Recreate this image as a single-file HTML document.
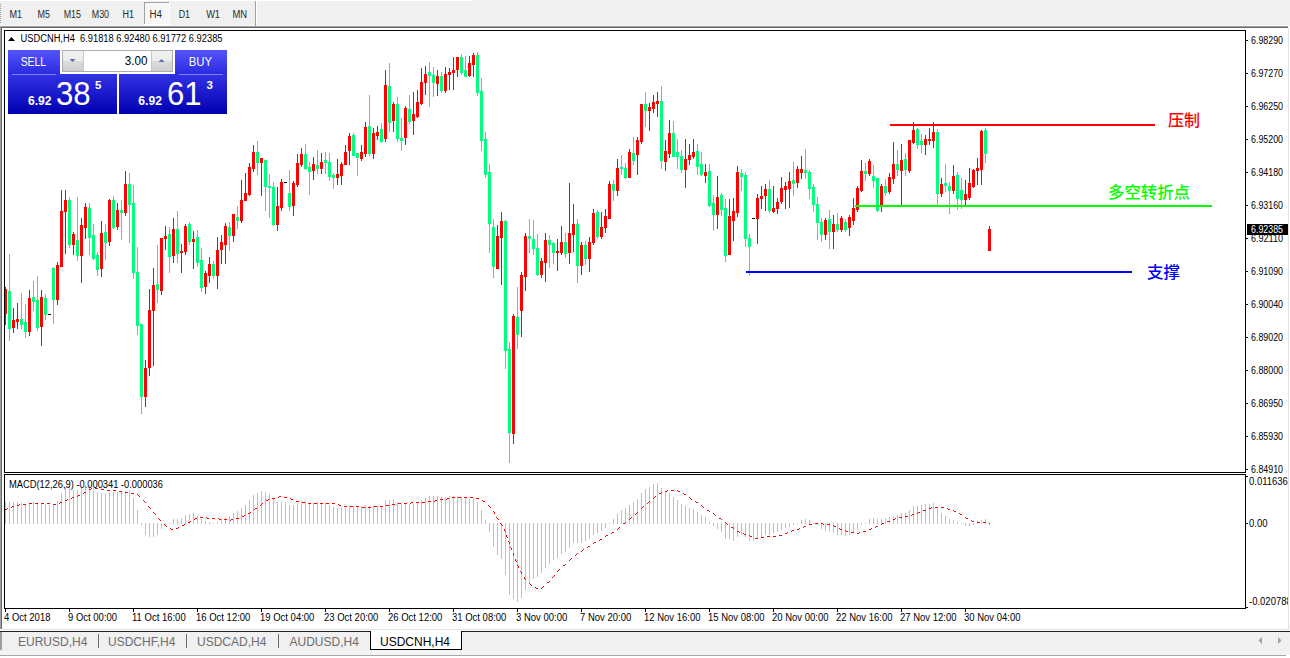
<!DOCTYPE html><html><head><meta charset="utf-8"><title>USDCNH,H4</title><style>
html,body{margin:0;padding:0;background:#fff;width:1290px;height:658px;overflow:hidden}
svg{display:block}
text{font-family:"Liberation Sans",Arial,sans-serif;}
.cn{font-family:"Liberation Sans","Noto Sans CJK SC","WenQuanYi Zen Hei",sans-serif;font-weight:500;font-size:16px}
</style></head><body>
<svg width="1290" height="658" viewBox="0 0 1290 658" shape-rendering="crispEdges">
<defs><linearGradient id="gb" x1="0" y1="0" x2="0" y2="1"><stop offset="0" stop-color="#5a5aff"/><stop offset="1" stop-color="#0000b4"/></linearGradient>
<linearGradient id="gs" x1="0" y1="0" x2="0" y2="1"><stop offset="0" stop-color="#5555ff"/><stop offset="1" stop-color="#2a2ae0"/></linearGradient>
<linearGradient id="gp" x1="0" y1="0" x2="0" y2="1"><stop offset="0" stop-color="#3333e6"/><stop offset="1" stop-color="#0000b0"/></linearGradient>
<linearGradient id="gbtn" x1="0" y1="0" x2="0" y2="1"><stop offset="0" stop-color="#f2f2f2"/><stop offset="0.5" stop-color="#ebebeb"/><stop offset="0.5" stop-color="#dddddd"/><stop offset="1" stop-color="#cfcfcf"/></linearGradient>
</defs>
<rect x="0" y="0" width="1290" height="26" fill="#f0f0f0" />
<rect x="0" y="0" width="473" height="1" fill="#ffffff" />
<rect x="0" y="4" width="1" height="1" fill="#a0a0a0" />
<rect x="0" y="6" width="1" height="1" fill="#a0a0a0" />
<rect x="0" y="8" width="1" height="1" fill="#a0a0a0" />
<rect x="0" y="10" width="1" height="1" fill="#a0a0a0" />
<rect x="0" y="12" width="1" height="1" fill="#a0a0a0" />
<rect x="0" y="14" width="1" height="1" fill="#a0a0a0" />
<rect x="0" y="16" width="1" height="1" fill="#a0a0a0" />
<rect x="0" y="18" width="1" height="1" fill="#a0a0a0" />
<rect x="0" y="20" width="1" height="1" fill="#a0a0a0" />
<rect x="0" y="22" width="1" height="1" fill="#a0a0a0" />
<rect x="0" y="25" width="1288" height="1" fill="#f8f8f8" />
<rect x="0" y="26" width="1288" height="1" fill="#a0a0a0" />
<rect x="0" y="27" width="1288" height="1" fill="#696969" />
<rect x="144" y="2" width="26" height="23" fill="#f7f7f7" />
<rect x="144" y="2" width="26" height="1" fill="#a0a0a0" />
<rect x="144" y="2" width="1" height="23" fill="#a0a0a0" />
<rect x="144" y="24" width="26" height="1" fill="#ffffff" />
<rect x="169" y="2" width="1" height="23" fill="#ffffff" />
<rect x="255" y="1" width="1" height="25" fill="#a0a0a0" />
<rect x="256" y="1" width="1" height="25" fill="#ffffff" />
<text x="9.5" y="18" font-size="10" fill="#2a2a2a" textLength="12.7" lengthAdjust="spacingAndGlyphs">M1</text>
<text x="37.5" y="18" font-size="10" fill="#2a2a2a" textLength="12.5" lengthAdjust="spacingAndGlyphs">M5</text>
<text x="63.7" y="18" font-size="10" fill="#2a2a2a" textLength="17.3" lengthAdjust="spacingAndGlyphs">M15</text>
<text x="91.8" y="18" font-size="10" fill="#2a2a2a" textLength="17.2" lengthAdjust="spacingAndGlyphs">M30</text>
<text x="122.5" y="18" font-size="10" fill="#2a2a2a" textLength="11.5" lengthAdjust="spacingAndGlyphs">H1</text>
<text x="149.5" y="18" font-size="10" fill="#2a2a2a" textLength="12.5" lengthAdjust="spacingAndGlyphs">H4</text>
<text x="178.7" y="18" font-size="10" fill="#2a2a2a" textLength="11.3" lengthAdjust="spacingAndGlyphs">D1</text>
<text x="206.2" y="18" font-size="10" fill="#2a2a2a" textLength="13.8" lengthAdjust="spacingAndGlyphs">W1</text>
<text x="232.5" y="18" font-size="10" fill="#2a2a2a" textLength="14.7" lengthAdjust="spacingAndGlyphs">MN</text>
<rect x="0" y="26" width="1" height="603" fill="#a0a0a0" />
<rect x="1" y="27" width="1" height="602" fill="#696969" />
<rect x="1288" y="28" width="1" height="602" fill="#e3e3e3" />
<rect x="2" y="629" width="1287" height="1" fill="#e3e3e3" />
<rect x="5" y="287" width="1" height="38" fill="#ff0000" />
<rect x="4" y="289" width="3" height="25" fill="#ff0000" />
<rect x="9" y="254" width="1" height="87" fill="#00ff7f" />
<rect x="8" y="291" width="3" height="38" fill="#00ff7f" />
<rect x="13" y="308" width="1" height="25" fill="#ff0000" />
<rect x="12" y="320" width="3" height="8" fill="#ff0000" />
<rect x="17" y="303" width="1" height="26" fill="#ff0000" />
<rect x="16" y="319" width="3" height="3" fill="#ff0000" />
<rect x="21" y="293" width="1" height="36" fill="#00ff7f" />
<rect x="20" y="319" width="3" height="6" fill="#00ff7f" />
<rect x="25" y="304" width="1" height="34" fill="#00ff7f" />
<rect x="24" y="322" width="3" height="10" fill="#00ff7f" />
<rect x="29" y="290" width="1" height="46" fill="#ff0000" />
<rect x="28" y="298" width="3" height="34" fill="#ff0000" />
<rect x="33" y="281" width="1" height="30" fill="#00ff7f" />
<rect x="32" y="297" width="3" height="5" fill="#00ff7f" />
<rect x="37" y="276" width="1" height="55" fill="#00ff7f" />
<rect x="36" y="300" width="3" height="28" fill="#00ff7f" />
<rect x="41" y="290" width="1" height="56" fill="#ff0000" />
<rect x="40" y="297" width="3" height="30" fill="#ff0000" />
<rect x="45" y="294" width="1" height="26" fill="#00ff7f" />
<rect x="44" y="298" width="3" height="17" fill="#00ff7f" />
<rect x="48" y="314" width="3" height="1" fill="#000" />
<rect x="53" y="267" width="1" height="57" fill="#00ff7f" />
<rect x="52" y="268" width="3" height="32" fill="#00ff7f" />
<rect x="57" y="262" width="1" height="43" fill="#ff0000" />
<rect x="56" y="265" width="3" height="35" fill="#ff0000" />
<rect x="61" y="190" width="1" height="77" fill="#ff0000" />
<rect x="60" y="211" width="3" height="56" fill="#ff0000" />
<rect x="65" y="190" width="1" height="64" fill="#ff0000" />
<rect x="64" y="200" width="3" height="12" fill="#ff0000" />
<rect x="69" y="197" width="1" height="51" fill="#00ff7f" />
<rect x="68" y="200" width="3" height="45" fill="#00ff7f" />
<rect x="73" y="232" width="1" height="23" fill="#ff0000" />
<rect x="72" y="234" width="3" height="11" fill="#ff0000" />
<rect x="77" y="197" width="1" height="64" fill="#00ff7f" />
<rect x="76" y="240" width="3" height="16" fill="#00ff7f" />
<rect x="81" y="218" width="1" height="65" fill="#ff0000" />
<rect x="80" y="225" width="3" height="31" fill="#ff0000" />
<rect x="85" y="203" width="1" height="36" fill="#ff0000" />
<rect x="84" y="207" width="3" height="21" fill="#ff0000" />
<rect x="89" y="203" width="1" height="52" fill="#00ff7f" />
<rect x="88" y="208" width="3" height="30" fill="#00ff7f" />
<rect x="93" y="224" width="1" height="36" fill="#00ff7f" />
<rect x="92" y="235" width="3" height="24" fill="#00ff7f" />
<rect x="97" y="252" width="1" height="24" fill="#00ff7f" />
<rect x="96" y="255" width="3" height="15" fill="#00ff7f" />
<rect x="101" y="221" width="1" height="56" fill="#ff0000" />
<rect x="100" y="233" width="3" height="36" fill="#ff0000" />
<rect x="105" y="224" width="1" height="36" fill="#00ff7f" />
<rect x="104" y="232" width="3" height="11" fill="#00ff7f" />
<rect x="109" y="199" width="1" height="47" fill="#ff0000" />
<rect x="108" y="200" width="3" height="42" fill="#ff0000" />
<rect x="113" y="196" width="1" height="33" fill="#00ff7f" />
<rect x="112" y="200" width="3" height="28" fill="#00ff7f" />
<rect x="117" y="203" width="1" height="27" fill="#ff0000" />
<rect x="116" y="210" width="3" height="17" fill="#ff0000" />
<rect x="121" y="200" width="1" height="40" fill="#00ff7f" />
<rect x="120" y="210" width="3" height="3" fill="#00ff7f" />
<rect x="125" y="171" width="1" height="45" fill="#ff0000" />
<rect x="124" y="184" width="3" height="29" fill="#ff0000" />
<rect x="129" y="173" width="1" height="70" fill="#00ff7f" />
<rect x="128" y="184" width="3" height="21" fill="#00ff7f" />
<rect x="133" y="185" width="1" height="94" fill="#00ff7f" />
<rect x="132" y="203" width="3" height="70" fill="#00ff7f" />
<rect x="137" y="247" width="1" height="88" fill="#00ff7f" />
<rect x="136" y="272" width="3" height="54" fill="#00ff7f" />
<rect x="141" y="324" width="1" height="90" fill="#00ff7f" />
<rect x="140" y="324" width="3" height="73" fill="#00ff7f" />
<rect x="145" y="360" width="1" height="47" fill="#ff0000" />
<rect x="144" y="368" width="3" height="29" fill="#ff0000" />
<rect x="149" y="289" width="1" height="87" fill="#ff0000" />
<rect x="148" y="310" width="3" height="58" fill="#ff0000" />
<rect x="153" y="268" width="1" height="98" fill="#ff0000" />
<rect x="152" y="285" width="3" height="26" fill="#ff0000" />
<rect x="157" y="245" width="1" height="58" fill="#00ff7f" />
<rect x="156" y="284" width="3" height="6" fill="#00ff7f" />
<rect x="161" y="238" width="1" height="57" fill="#ff0000" />
<rect x="160" y="238" width="3" height="53" fill="#ff0000" />
<rect x="165" y="226" width="1" height="24" fill="#ff0000" />
<rect x="164" y="236" width="3" height="3" fill="#ff0000" />
<rect x="169" y="227" width="1" height="46" fill="#00ff7f" />
<rect x="168" y="234" width="3" height="23" fill="#00ff7f" />
<rect x="173" y="218" width="1" height="45" fill="#ff0000" />
<rect x="172" y="229" width="3" height="27" fill="#ff0000" />
<rect x="177" y="211" width="1" height="52" fill="#00ff7f" />
<rect x="176" y="229" width="3" height="25" fill="#00ff7f" />
<rect x="181" y="244" width="1" height="29" fill="#ff0000" />
<rect x="180" y="251" width="3" height="2" fill="#ff0000" />
<rect x="185" y="224" width="1" height="31" fill="#ff0000" />
<rect x="184" y="226" width="3" height="26" fill="#ff0000" />
<rect x="189" y="222" width="1" height="23" fill="#00ff7f" />
<rect x="188" y="224" width="3" height="18" fill="#00ff7f" />
<rect x="193" y="231" width="1" height="38" fill="#ff0000" />
<rect x="192" y="239" width="3" height="3" fill="#ff0000" />
<rect x="197" y="230" width="1" height="37" fill="#00ff7f" />
<rect x="196" y="237" width="3" height="26" fill="#00ff7f" />
<rect x="201" y="248" width="1" height="44" fill="#00ff7f" />
<rect x="200" y="260" width="3" height="28" fill="#00ff7f" />
<rect x="205" y="271" width="1" height="23" fill="#ff0000" />
<rect x="204" y="273" width="3" height="14" fill="#ff0000" />
<rect x="209" y="257" width="1" height="26" fill="#ff0000" />
<rect x="208" y="264" width="3" height="12" fill="#ff0000" />
<rect x="213" y="261" width="1" height="18" fill="#00ff7f" />
<rect x="212" y="264" width="3" height="12" fill="#00ff7f" />
<rect x="217" y="237" width="1" height="52" fill="#ff0000" />
<rect x="216" y="250" width="3" height="26" fill="#ff0000" />
<rect x="221" y="235" width="1" height="29" fill="#ff0000" />
<rect x="220" y="242" width="3" height="8" fill="#ff0000" />
<rect x="225" y="223" width="1" height="41" fill="#ff0000" />
<rect x="224" y="226" width="3" height="19" fill="#ff0000" />
<rect x="229" y="222" width="1" height="29" fill="#00ff7f" />
<rect x="228" y="227" width="3" height="9" fill="#00ff7f" />
<rect x="233" y="214" width="1" height="28" fill="#ff0000" />
<rect x="232" y="214" width="3" height="22" fill="#ff0000" />
<rect x="237" y="206" width="1" height="23" fill="#00ff7f" />
<rect x="236" y="217" width="3" height="4" fill="#00ff7f" />
<rect x="241" y="180" width="1" height="43" fill="#ff0000" />
<rect x="240" y="200" width="3" height="21" fill="#ff0000" />
<rect x="245" y="173" width="1" height="28" fill="#ff0000" />
<rect x="244" y="193" width="3" height="8" fill="#ff0000" />
<rect x="249" y="163" width="1" height="33" fill="#ff0000" />
<rect x="248" y="167" width="3" height="28" fill="#ff0000" />
<rect x="253" y="145" width="1" height="27" fill="#ff0000" />
<rect x="252" y="152" width="3" height="17" fill="#ff0000" />
<rect x="257" y="141" width="1" height="34" fill="#00ff7f" />
<rect x="256" y="152" width="3" height="11" fill="#00ff7f" />
<rect x="261" y="158" width="1" height="38" fill="#ff0000" />
<rect x="260" y="158" width="3" height="5" fill="#ff0000" />
<rect x="265" y="160" width="1" height="51" fill="#00ff7f" />
<rect x="264" y="160" width="3" height="27" fill="#00ff7f" />
<rect x="269" y="174" width="1" height="44" fill="#00ff7f" />
<rect x="268" y="186" width="3" height="2" fill="#00ff7f" />
<rect x="273" y="182" width="1" height="44" fill="#00ff7f" />
<rect x="272" y="187" width="3" height="38" fill="#00ff7f" />
<rect x="277" y="187" width="1" height="44" fill="#ff0000" />
<rect x="276" y="206" width="3" height="19" fill="#ff0000" />
<rect x="281" y="179" width="1" height="32" fill="#ff0000" />
<rect x="280" y="182" width="3" height="26" fill="#ff0000" />
<rect x="284" y="182" width="3" height="1" fill="#000" />
<rect x="289" y="170" width="1" height="41" fill="#00ff7f" />
<rect x="288" y="193" width="3" height="14" fill="#00ff7f" />
<rect x="293" y="181" width="1" height="35" fill="#ff0000" />
<rect x="292" y="183" width="3" height="23" fill="#ff0000" />
<rect x="297" y="154" width="1" height="33" fill="#ff0000" />
<rect x="296" y="163" width="3" height="22" fill="#ff0000" />
<rect x="301" y="148" width="1" height="19" fill="#ff0000" />
<rect x="300" y="154" width="3" height="11" fill="#ff0000" />
<rect x="305" y="144" width="1" height="26" fill="#00ff7f" />
<rect x="304" y="154" width="3" height="15" fill="#00ff7f" />
<rect x="309" y="162" width="1" height="33" fill="#00ff7f" />
<rect x="308" y="167" width="3" height="5" fill="#00ff7f" />
<rect x="313" y="157" width="1" height="23" fill="#ff0000" />
<rect x="312" y="164" width="3" height="7" fill="#ff0000" />
<rect x="317" y="150" width="1" height="24" fill="#00ff7f" />
<rect x="316" y="165" width="3" height="4" fill="#00ff7f" />
<rect x="321" y="153" width="1" height="21" fill="#ff0000" />
<rect x="320" y="162" width="3" height="7" fill="#ff0000" />
<rect x="325" y="152" width="1" height="22" fill="#00ff7f" />
<rect x="324" y="160" width="3" height="3" fill="#00ff7f" />
<rect x="329" y="153" width="1" height="28" fill="#00ff7f" />
<rect x="328" y="162" width="3" height="15" fill="#00ff7f" />
<rect x="333" y="173" width="1" height="16" fill="#00ff7f" />
<rect x="332" y="175" width="3" height="3" fill="#00ff7f" />
<rect x="337" y="159" width="1" height="26" fill="#ff0000" />
<rect x="336" y="174" width="3" height="4" fill="#ff0000" />
<rect x="341" y="162" width="1" height="23" fill="#ff0000" />
<rect x="340" y="164" width="3" height="12" fill="#ff0000" />
<rect x="345" y="145" width="1" height="20" fill="#ff0000" />
<rect x="344" y="152" width="3" height="13" fill="#ff0000" />
<rect x="349" y="133" width="1" height="32" fill="#ff0000" />
<rect x="348" y="136" width="3" height="15" fill="#ff0000" />
<rect x="353" y="133" width="1" height="23" fill="#00ff7f" />
<rect x="352" y="135" width="3" height="21" fill="#00ff7f" />
<rect x="357" y="153" width="1" height="23" fill="#00ff7f" />
<rect x="356" y="153" width="3" height="5" fill="#00ff7f" />
<rect x="361" y="145" width="1" height="16" fill="#ff0000" />
<rect x="360" y="152" width="3" height="7" fill="#ff0000" />
<rect x="365" y="122" width="1" height="35" fill="#ff0000" />
<rect x="364" y="127" width="3" height="27" fill="#ff0000" />
<rect x="369" y="95" width="1" height="61" fill="#00ff7f" />
<rect x="368" y="126" width="3" height="28" fill="#00ff7f" />
<rect x="373" y="128" width="1" height="31" fill="#ff0000" />
<rect x="372" y="133" width="3" height="21" fill="#ff0000" />
<rect x="377" y="126" width="1" height="14" fill="#ff0000" />
<rect x="376" y="132" width="3" height="4" fill="#ff0000" />
<rect x="381" y="123" width="1" height="20" fill="#00ff7f" />
<rect x="380" y="129" width="3" height="13" fill="#00ff7f" />
<rect x="385" y="70" width="1" height="72" fill="#ff0000" />
<rect x="384" y="85" width="3" height="54" fill="#ff0000" />
<rect x="389" y="63" width="1" height="69" fill="#00ff7f" />
<rect x="388" y="86" width="3" height="37" fill="#00ff7f" />
<rect x="393" y="102" width="1" height="30" fill="#ff0000" />
<rect x="392" y="104" width="3" height="17" fill="#ff0000" />
<rect x="397" y="97" width="1" height="45" fill="#00ff7f" />
<rect x="396" y="104" width="3" height="35" fill="#00ff7f" />
<rect x="401" y="118" width="1" height="33" fill="#00ff7f" />
<rect x="400" y="138" width="3" height="3" fill="#00ff7f" />
<rect x="405" y="106" width="1" height="39" fill="#ff0000" />
<rect x="404" y="108" width="3" height="30" fill="#ff0000" />
<rect x="409" y="95" width="1" height="29" fill="#00ff7f" />
<rect x="408" y="109" width="3" height="13" fill="#00ff7f" />
<rect x="413" y="92" width="1" height="43" fill="#ff0000" />
<rect x="412" y="114" width="3" height="7" fill="#ff0000" />
<rect x="417" y="90" width="1" height="28" fill="#ff0000" />
<rect x="416" y="102" width="3" height="15" fill="#ff0000" />
<rect x="421" y="68" width="1" height="37" fill="#ff0000" />
<rect x="420" y="82" width="3" height="22" fill="#ff0000" />
<rect x="425" y="66" width="1" height="29" fill="#ff0000" />
<rect x="424" y="74" width="3" height="9" fill="#ff0000" />
<rect x="429" y="62" width="1" height="45" fill="#00ff7f" />
<rect x="428" y="72" width="3" height="4" fill="#00ff7f" />
<rect x="433" y="67" width="1" height="30" fill="#00ff7f" />
<rect x="432" y="75" width="3" height="8" fill="#00ff7f" />
<rect x="437" y="70" width="1" height="26" fill="#ff0000" />
<rect x="436" y="76" width="3" height="8" fill="#ff0000" />
<rect x="441" y="72" width="1" height="21" fill="#00ff7f" />
<rect x="440" y="76" width="3" height="15" fill="#00ff7f" />
<rect x="445" y="67" width="1" height="26" fill="#ff0000" />
<rect x="444" y="74" width="3" height="17" fill="#ff0000" />
<rect x="449" y="68" width="1" height="22" fill="#ff0000" />
<rect x="448" y="72" width="3" height="3" fill="#ff0000" />
<rect x="453" y="57" width="1" height="33" fill="#ff0000" />
<rect x="452" y="70" width="3" height="3" fill="#ff0000" />
<rect x="457" y="57" width="1" height="20" fill="#ff0000" />
<rect x="456" y="57" width="3" height="13" fill="#ff0000" />
<rect x="461" y="54" width="1" height="21" fill="#00ff7f" />
<rect x="460" y="57" width="3" height="16" fill="#00ff7f" />
<rect x="465" y="56" width="1" height="21" fill="#00ff7f" />
<rect x="464" y="70" width="3" height="7" fill="#00ff7f" />
<rect x="469" y="56" width="1" height="21" fill="#ff0000" />
<rect x="468" y="63" width="3" height="13" fill="#ff0000" />
<rect x="473" y="53" width="1" height="24" fill="#ff0000" />
<rect x="472" y="55" width="3" height="10" fill="#ff0000" />
<rect x="477" y="52" width="1" height="44" fill="#00ff7f" />
<rect x="476" y="55" width="3" height="38" fill="#00ff7f" />
<rect x="481" y="78" width="1" height="73" fill="#00ff7f" />
<rect x="480" y="91" width="3" height="50" fill="#00ff7f" />
<rect x="485" y="132" width="1" height="46" fill="#00ff7f" />
<rect x="484" y="139" width="3" height="36" fill="#00ff7f" />
<rect x="489" y="164" width="1" height="89" fill="#00ff7f" />
<rect x="488" y="172" width="3" height="52" fill="#00ff7f" />
<rect x="493" y="219" width="1" height="59" fill="#00ff7f" />
<rect x="492" y="227" width="3" height="40" fill="#00ff7f" />
<rect x="497" y="225" width="1" height="44" fill="#ff0000" />
<rect x="496" y="236" width="3" height="33" fill="#ff0000" />
<rect x="501" y="212" width="1" height="73" fill="#ff0000" />
<rect x="500" y="221" width="3" height="17" fill="#ff0000" />
<rect x="505" y="220" width="1" height="149" fill="#00ff7f" />
<rect x="504" y="221" width="3" height="130" fill="#00ff7f" />
<rect x="509" y="342" width="1" height="121" fill="#00ff7f" />
<rect x="508" y="349" width="3" height="84" fill="#00ff7f" />
<rect x="513" y="314" width="1" height="130" fill="#ff0000" />
<rect x="512" y="316" width="3" height="118" fill="#ff0000" />
<rect x="517" y="287" width="1" height="62" fill="#00ff7f" />
<rect x="516" y="317" width="3" height="18" fill="#00ff7f" />
<rect x="521" y="272" width="1" height="65" fill="#ff0000" />
<rect x="520" y="275" width="3" height="36" fill="#ff0000" />
<rect x="525" y="233" width="1" height="58" fill="#ff0000" />
<rect x="524" y="236" width="3" height="41" fill="#ff0000" />
<rect x="529" y="219" width="1" height="34" fill="#00ff7f" />
<rect x="528" y="236" width="3" height="3" fill="#00ff7f" />
<rect x="533" y="220" width="1" height="35" fill="#00ff7f" />
<rect x="532" y="239" width="3" height="10" fill="#00ff7f" />
<rect x="537" y="234" width="1" height="42" fill="#00ff7f" />
<rect x="536" y="248" width="3" height="27" fill="#00ff7f" />
<rect x="541" y="258" width="1" height="20" fill="#ff0000" />
<rect x="540" y="261" width="3" height="14" fill="#ff0000" />
<rect x="545" y="233" width="1" height="49" fill="#ff0000" />
<rect x="544" y="240" width="3" height="23" fill="#ff0000" />
<rect x="549" y="235" width="1" height="33" fill="#00ff7f" />
<rect x="548" y="240" width="3" height="5" fill="#00ff7f" />
<rect x="553" y="242" width="1" height="22" fill="#00ff7f" />
<rect x="552" y="243" width="3" height="10" fill="#00ff7f" />
<rect x="557" y="239" width="1" height="32" fill="#ff0000" />
<rect x="556" y="251" width="3" height="2" fill="#ff0000" />
<rect x="561" y="226" width="1" height="29" fill="#ff0000" />
<rect x="560" y="242" width="3" height="11" fill="#ff0000" />
<rect x="565" y="233" width="1" height="25" fill="#00ff7f" />
<rect x="564" y="242" width="3" height="12" fill="#00ff7f" />
<rect x="569" y="183" width="1" height="81" fill="#ff0000" />
<rect x="568" y="233" width="3" height="20" fill="#ff0000" />
<rect x="573" y="204" width="1" height="48" fill="#ff0000" />
<rect x="572" y="224" width="3" height="11" fill="#ff0000" />
<rect x="577" y="219" width="1" height="64" fill="#00ff7f" />
<rect x="576" y="224" width="3" height="42" fill="#00ff7f" />
<rect x="581" y="242" width="1" height="33" fill="#ff0000" />
<rect x="580" y="245" width="3" height="21" fill="#ff0000" />
<rect x="585" y="241" width="1" height="24" fill="#00ff7f" />
<rect x="584" y="245" width="3" height="14" fill="#00ff7f" />
<rect x="589" y="237" width="1" height="35" fill="#ff0000" />
<rect x="588" y="242" width="3" height="17" fill="#ff0000" />
<rect x="593" y="209" width="1" height="36" fill="#ff0000" />
<rect x="592" y="213" width="3" height="30" fill="#ff0000" />
<rect x="597" y="210" width="1" height="29" fill="#00ff7f" />
<rect x="596" y="212" width="3" height="25" fill="#00ff7f" />
<rect x="601" y="212" width="1" height="27" fill="#ff0000" />
<rect x="600" y="227" width="3" height="10" fill="#ff0000" />
<rect x="605" y="209" width="1" height="24" fill="#ff0000" />
<rect x="604" y="216" width="3" height="12" fill="#ff0000" />
<rect x="609" y="181" width="1" height="38" fill="#ff0000" />
<rect x="608" y="184" width="3" height="35" fill="#ff0000" />
<rect x="613" y="180" width="1" height="21" fill="#00ff7f" />
<rect x="612" y="184" width="3" height="7" fill="#00ff7f" />
<rect x="617" y="159" width="1" height="37" fill="#ff0000" />
<rect x="616" y="168" width="3" height="23" fill="#ff0000" />
<rect x="621" y="155" width="1" height="20" fill="#00ff7f" />
<rect x="620" y="167" width="3" height="2" fill="#00ff7f" />
<rect x="625" y="163" width="1" height="16" fill="#00ff7f" />
<rect x="624" y="168" width="3" height="10" fill="#00ff7f" />
<rect x="629" y="149" width="1" height="29" fill="#ff0000" />
<rect x="628" y="152" width="3" height="26" fill="#ff0000" />
<rect x="633" y="137" width="1" height="28" fill="#00ff7f" />
<rect x="632" y="153" width="3" height="8" fill="#00ff7f" />
<rect x="637" y="137" width="1" height="38" fill="#ff0000" />
<rect x="636" y="140" width="3" height="15" fill="#ff0000" />
<rect x="641" y="104" width="1" height="40" fill="#ff0000" />
<rect x="640" y="104" width="3" height="38" fill="#ff0000" />
<rect x="645" y="92" width="1" height="35" fill="#00ff7f" />
<rect x="644" y="104" width="3" height="7" fill="#00ff7f" />
<rect x="649" y="103" width="1" height="28" fill="#ff0000" />
<rect x="648" y="107" width="3" height="4" fill="#ff0000" />
<rect x="653" y="95" width="1" height="18" fill="#ff0000" />
<rect x="652" y="102" width="3" height="7" fill="#ff0000" />
<rect x="657" y="92" width="1" height="25" fill="#ff0000" />
<rect x="656" y="101" width="3" height="3" fill="#ff0000" />
<rect x="661" y="86" width="1" height="83" fill="#00ff7f" />
<rect x="660" y="101" width="3" height="60" fill="#00ff7f" />
<rect x="665" y="140" width="1" height="31" fill="#ff0000" />
<rect x="664" y="151" width="3" height="11" fill="#ff0000" />
<rect x="669" y="120" width="1" height="38" fill="#ff0000" />
<rect x="668" y="133" width="3" height="21" fill="#ff0000" />
<rect x="673" y="121" width="1" height="36" fill="#00ff7f" />
<rect x="672" y="133" width="3" height="24" fill="#00ff7f" />
<rect x="677" y="139" width="1" height="30" fill="#00ff7f" />
<rect x="676" y="152" width="3" height="5" fill="#00ff7f" />
<rect x="681" y="150" width="1" height="23" fill="#00ff7f" />
<rect x="680" y="156" width="3" height="14" fill="#00ff7f" />
<rect x="685" y="139" width="1" height="49" fill="#ff0000" />
<rect x="684" y="159" width="3" height="11" fill="#ff0000" />
<rect x="689" y="144" width="1" height="21" fill="#ff0000" />
<rect x="688" y="155" width="3" height="5" fill="#ff0000" />
<rect x="693" y="139" width="1" height="20" fill="#ff0000" />
<rect x="692" y="152" width="3" height="5" fill="#ff0000" />
<rect x="697" y="144" width="1" height="31" fill="#00ff7f" />
<rect x="696" y="151" width="3" height="16" fill="#00ff7f" />
<rect x="701" y="152" width="1" height="24" fill="#00ff7f" />
<rect x="700" y="164" width="3" height="11" fill="#00ff7f" />
<rect x="705" y="164" width="1" height="19" fill="#ff0000" />
<rect x="704" y="172" width="3" height="4" fill="#ff0000" />
<rect x="709" y="164" width="1" height="43" fill="#00ff7f" />
<rect x="708" y="171" width="3" height="35" fill="#00ff7f" />
<rect x="713" y="195" width="1" height="36" fill="#00ff7f" />
<rect x="712" y="203" width="3" height="12" fill="#00ff7f" />
<rect x="717" y="176" width="1" height="53" fill="#ff0000" />
<rect x="716" y="197" width="3" height="18" fill="#ff0000" />
<rect x="721" y="193" width="1" height="23" fill="#00ff7f" />
<rect x="720" y="195" width="3" height="15" fill="#00ff7f" />
<rect x="725" y="199" width="1" height="63" fill="#00ff7f" />
<rect x="724" y="208" width="3" height="48" fill="#00ff7f" />
<rect x="729" y="199" width="1" height="56" fill="#ff0000" />
<rect x="728" y="216" width="3" height="39" fill="#ff0000" />
<rect x="733" y="198" width="1" height="43" fill="#ff0000" />
<rect x="732" y="211" width="3" height="10" fill="#ff0000" />
<rect x="737" y="166" width="1" height="51" fill="#ff0000" />
<rect x="736" y="172" width="3" height="41" fill="#ff0000" />
<rect x="741" y="169" width="1" height="22" fill="#00ff7f" />
<rect x="740" y="173" width="3" height="4" fill="#00ff7f" />
<rect x="745" y="172" width="1" height="75" fill="#00ff7f" />
<rect x="744" y="175" width="3" height="64" fill="#00ff7f" />
<rect x="749" y="234" width="1" height="42" fill="#00ff7f" />
<rect x="748" y="238" width="3" height="9" fill="#00ff7f" />
<rect x="752" y="218" width="3" height="1" fill="#000" />
<rect x="757" y="194" width="1" height="50" fill="#ff0000" />
<rect x="756" y="198" width="3" height="21" fill="#ff0000" />
<rect x="761" y="186" width="1" height="23" fill="#ff0000" />
<rect x="760" y="196" width="3" height="3" fill="#ff0000" />
<rect x="765" y="184" width="1" height="27" fill="#ff0000" />
<rect x="764" y="189" width="3" height="7" fill="#ff0000" />
<rect x="769" y="180" width="1" height="33" fill="#00ff7f" />
<rect x="768" y="189" width="3" height="22" fill="#00ff7f" />
<rect x="773" y="186" width="1" height="27" fill="#ff0000" />
<rect x="772" y="208" width="3" height="4" fill="#ff0000" />
<rect x="777" y="198" width="1" height="16" fill="#ff0000" />
<rect x="776" y="202" width="3" height="7" fill="#ff0000" />
<rect x="781" y="177" width="1" height="27" fill="#ff0000" />
<rect x="780" y="188" width="3" height="14" fill="#ff0000" />
<rect x="785" y="182" width="1" height="27" fill="#ff0000" />
<rect x="784" y="186" width="3" height="4" fill="#ff0000" />
<rect x="789" y="172" width="1" height="36" fill="#ff0000" />
<rect x="788" y="181" width="3" height="8" fill="#ff0000" />
<rect x="793" y="162" width="1" height="34" fill="#00ff7f" />
<rect x="792" y="180" width="3" height="4" fill="#00ff7f" />
<rect x="797" y="166" width="1" height="22" fill="#ff0000" />
<rect x="796" y="169" width="3" height="14" fill="#ff0000" />
<rect x="801" y="156" width="1" height="23" fill="#ff0000" />
<rect x="800" y="169" width="3" height="4" fill="#ff0000" />
<rect x="805" y="149" width="1" height="30" fill="#00ff7f" />
<rect x="804" y="170" width="3" height="3" fill="#00ff7f" />
<rect x="809" y="170" width="1" height="29" fill="#00ff7f" />
<rect x="808" y="172" width="3" height="17" fill="#00ff7f" />
<rect x="813" y="184" width="1" height="28" fill="#00ff7f" />
<rect x="812" y="187" width="3" height="18" fill="#00ff7f" />
<rect x="817" y="197" width="1" height="43" fill="#00ff7f" />
<rect x="816" y="204" width="3" height="19" fill="#00ff7f" />
<rect x="821" y="218" width="1" height="24" fill="#00ff7f" />
<rect x="820" y="222" width="3" height="13" fill="#00ff7f" />
<rect x="825" y="218" width="1" height="22" fill="#ff0000" />
<rect x="824" y="220" width="3" height="15" fill="#ff0000" />
<rect x="829" y="210" width="1" height="39" fill="#00ff7f" />
<rect x="828" y="219" width="3" height="13" fill="#00ff7f" />
<rect x="833" y="215" width="1" height="34" fill="#ff0000" />
<rect x="832" y="224" width="3" height="8" fill="#ff0000" />
<rect x="837" y="213" width="1" height="19" fill="#00ff7f" />
<rect x="836" y="224" width="3" height="6" fill="#00ff7f" />
<rect x="841" y="216" width="1" height="16" fill="#ff0000" />
<rect x="840" y="218" width="3" height="12" fill="#ff0000" />
<rect x="845" y="219" width="1" height="13" fill="#00ff7f" />
<rect x="844" y="222" width="3" height="8" fill="#00ff7f" />
<rect x="849" y="215" width="1" height="21" fill="#ff0000" />
<rect x="848" y="217" width="3" height="11" fill="#ff0000" />
<rect x="853" y="198" width="1" height="27" fill="#ff0000" />
<rect x="852" y="208" width="3" height="13" fill="#ff0000" />
<rect x="857" y="186" width="1" height="26" fill="#ff0000" />
<rect x="856" y="188" width="3" height="22" fill="#ff0000" />
<rect x="861" y="160" width="1" height="32" fill="#ff0000" />
<rect x="860" y="171" width="3" height="20" fill="#ff0000" />
<rect x="865" y="163" width="1" height="18" fill="#00ff7f" />
<rect x="864" y="171" width="3" height="3" fill="#00ff7f" />
<rect x="869" y="159" width="1" height="17" fill="#ff0000" />
<rect x="868" y="161" width="3" height="13" fill="#ff0000" />
<rect x="873" y="165" width="1" height="23" fill="#00ff7f" />
<rect x="872" y="176" width="3" height="5" fill="#00ff7f" />
<rect x="877" y="178" width="1" height="34" fill="#00ff7f" />
<rect x="876" y="178" width="3" height="33" fill="#00ff7f" />
<rect x="881" y="184" width="1" height="28" fill="#ff0000" />
<rect x="880" y="186" width="3" height="21" fill="#ff0000" />
<rect x="885" y="179" width="1" height="17" fill="#00ff7f" />
<rect x="884" y="186" width="3" height="7" fill="#00ff7f" />
<rect x="889" y="173" width="1" height="21" fill="#ff0000" />
<rect x="888" y="177" width="3" height="15" fill="#ff0000" />
<rect x="893" y="142" width="1" height="42" fill="#ff0000" />
<rect x="892" y="164" width="3" height="15" fill="#ff0000" />
<rect x="897" y="150" width="1" height="26" fill="#00ff7f" />
<rect x="896" y="164" width="3" height="6" fill="#00ff7f" />
<rect x="901" y="144" width="1" height="62" fill="#ff0000" />
<rect x="900" y="160" width="3" height="11" fill="#ff0000" />
<rect x="905" y="153" width="1" height="23" fill="#00ff7f" />
<rect x="904" y="159" width="3" height="11" fill="#00ff7f" />
<rect x="909" y="140" width="1" height="33" fill="#ff0000" />
<rect x="908" y="140" width="3" height="31" fill="#ff0000" />
<rect x="913" y="122" width="1" height="22" fill="#ff0000" />
<rect x="912" y="130" width="3" height="13" fill="#ff0000" />
<rect x="917" y="128" width="1" height="21" fill="#00ff7f" />
<rect x="916" y="129" width="3" height="16" fill="#00ff7f" />
<rect x="921" y="134" width="1" height="19" fill="#00ff7f" />
<rect x="920" y="141" width="3" height="4" fill="#00ff7f" />
<rect x="925" y="135" width="1" height="20" fill="#ff0000" />
<rect x="924" y="139" width="3" height="6" fill="#ff0000" />
<rect x="929" y="128" width="1" height="17" fill="#ff0000" />
<rect x="928" y="139" width="3" height="2" fill="#ff0000" />
<rect x="933" y="122" width="1" height="26" fill="#ff0000" />
<rect x="932" y="132" width="3" height="9" fill="#ff0000" />
<rect x="937" y="129" width="1" height="77" fill="#00ff7f" />
<rect x="936" y="132" width="3" height="62" fill="#00ff7f" />
<rect x="941" y="178" width="1" height="19" fill="#ff0000" />
<rect x="940" y="184" width="3" height="10" fill="#ff0000" />
<rect x="945" y="164" width="1" height="28" fill="#00ff7f" />
<rect x="944" y="183" width="3" height="3" fill="#00ff7f" />
<rect x="949" y="182" width="1" height="32" fill="#00ff7f" />
<rect x="948" y="186" width="3" height="5" fill="#00ff7f" />
<rect x="953" y="165" width="1" height="29" fill="#ff0000" />
<rect x="952" y="176" width="3" height="15" fill="#ff0000" />
<rect x="957" y="172" width="1" height="38" fill="#00ff7f" />
<rect x="956" y="175" width="3" height="24" fill="#00ff7f" />
<rect x="961" y="178" width="1" height="31" fill="#00ff7f" />
<rect x="960" y="190" width="3" height="10" fill="#00ff7f" />
<rect x="965" y="180" width="1" height="25" fill="#ff0000" />
<rect x="964" y="194" width="3" height="6" fill="#ff0000" />
<rect x="969" y="168" width="1" height="32" fill="#ff0000" />
<rect x="968" y="183" width="3" height="15" fill="#ff0000" />
<rect x="973" y="169" width="1" height="19" fill="#ff0000" />
<rect x="972" y="170" width="3" height="17" fill="#ff0000" />
<rect x="977" y="158" width="1" height="27" fill="#ff0000" />
<rect x="976" y="168" width="3" height="3" fill="#ff0000" />
<rect x="981" y="130" width="1" height="55" fill="#ff0000" />
<rect x="980" y="131" width="3" height="39" fill="#ff0000" />
<rect x="985" y="128" width="1" height="35" fill="#00ff7f" />
<rect x="984" y="130" width="3" height="24" fill="#00ff7f" />
<rect x="989" y="226" width="1" height="25" fill="#ff0000" />
<rect x="988" y="229" width="3" height="22" fill="#ff0000" />
<rect x="890" y="124" width="265" height="2" fill="#ff0000" />
<rect x="855" y="205" width="357" height="2" fill="#00ff00" />
<rect x="746" y="271" width="386" height="2" fill="#0000ff" />
<text class="cn" x="1168" y="126" fill="#ff0000" textLength="32" lengthAdjust="spacingAndGlyphs">压制</text>
<text class="cn" x="1108" y="198" fill="#00ff00" textLength="82" lengthAdjust="spacingAndGlyphs">多空转折点</text>
<text class="cn" x="1147" y="278" fill="#0000ff" textLength="33" lengthAdjust="spacingAndGlyphs">支撑</text>
<rect x="4.5" y="30.5" width="1241" height="442" fill="none" stroke="#000" stroke-width="1"/>
<rect x="4.5" y="474.5" width="1241" height="134" fill="none" stroke="#000" stroke-width="1"/>
<rect x="1246" y="40" width="2" height="1" fill="#000" />
<text x="1251" y="44" font-size="10" fill="#000" textLength="32" lengthAdjust="spacingAndGlyphs">6.98290</text>
<rect x="1246" y="73" width="2" height="1" fill="#000" />
<text x="1251" y="77" font-size="10" fill="#000" textLength="32" lengthAdjust="spacingAndGlyphs">6.97270</text>
<rect x="1246" y="106" width="2" height="1" fill="#000" />
<text x="1251" y="110" font-size="10" fill="#000" textLength="32" lengthAdjust="spacingAndGlyphs">6.96250</text>
<rect x="1246" y="139" width="2" height="1" fill="#000" />
<text x="1251" y="143" font-size="10" fill="#000" textLength="32" lengthAdjust="spacingAndGlyphs">6.95200</text>
<rect x="1246" y="172" width="2" height="1" fill="#000" />
<text x="1251" y="176" font-size="10" fill="#000" textLength="32" lengthAdjust="spacingAndGlyphs">6.94180</text>
<rect x="1246" y="205" width="2" height="1" fill="#000" />
<text x="1251" y="209" font-size="10" fill="#000" textLength="32" lengthAdjust="spacingAndGlyphs">6.93160</text>
<rect x="1246" y="238" width="2" height="1" fill="#000" />
<text x="1251" y="242" font-size="10" fill="#000" textLength="32" lengthAdjust="spacingAndGlyphs">6.92110</text>
<rect x="1246" y="271" width="2" height="1" fill="#000" />
<text x="1251" y="275" font-size="10" fill="#000" textLength="32" lengthAdjust="spacingAndGlyphs">6.91090</text>
<rect x="1246" y="304" width="2" height="1" fill="#000" />
<text x="1251" y="308" font-size="10" fill="#000" textLength="32" lengthAdjust="spacingAndGlyphs">6.90040</text>
<rect x="1246" y="337" width="2" height="1" fill="#000" />
<text x="1251" y="341" font-size="10" fill="#000" textLength="32" lengthAdjust="spacingAndGlyphs">6.89020</text>
<rect x="1246" y="370" width="2" height="1" fill="#000" />
<text x="1251" y="374" font-size="10" fill="#000" textLength="32" lengthAdjust="spacingAndGlyphs">6.88000</text>
<rect x="1246" y="403" width="2" height="1" fill="#000" />
<text x="1251" y="407" font-size="10" fill="#000" textLength="32" lengthAdjust="spacingAndGlyphs">6.86950</text>
<rect x="1246" y="436" width="2" height="1" fill="#000" />
<text x="1251" y="440" font-size="10" fill="#000" textLength="32" lengthAdjust="spacingAndGlyphs">6.85930</text>
<rect x="1246" y="469" width="2" height="1" fill="#000" />
<text x="1251" y="473" font-size="10" fill="#000" textLength="32" lengthAdjust="spacingAndGlyphs">6.84910</text>
<rect x="1247" y="224" width="41" height="11" fill="#000" />
<text x="1251" y="233" font-size="10" fill="#fff" textLength="32" lengthAdjust="spacingAndGlyphs">6.92385</text>
<path d="M8 41 L15 41 L11.5 37 Z" fill="#000" shape-rendering="auto"/>
<text x="20.5" y="41.6" font-size="10" fill="#000" xml:space="preserve" textLength="202" lengthAdjust="spacingAndGlyphs">USDCNH,H4  6.91818 6.92480 6.91772 6.92385</text>
<rect x="5" y="502" width="1" height="22" fill="#c0c0c0" />
<rect x="9" y="502" width="1" height="22" fill="#c0c0c0" />
<rect x="13" y="502" width="1" height="22" fill="#c0c0c0" />
<rect x="17" y="502" width="1" height="22" fill="#c0c0c0" />
<rect x="21" y="503" width="1" height="21" fill="#c0c0c0" />
<rect x="25" y="505" width="1" height="19" fill="#c0c0c0" />
<rect x="29" y="503" width="1" height="21" fill="#c0c0c0" />
<rect x="33" y="502" width="1" height="22" fill="#c0c0c0" />
<rect x="37" y="504" width="1" height="20" fill="#c0c0c0" />
<rect x="41" y="504" width="1" height="20" fill="#c0c0c0" />
<rect x="45" y="504" width="1" height="20" fill="#c0c0c0" />
<rect x="49" y="505" width="1" height="19" fill="#c0c0c0" />
<rect x="53" y="505" width="1" height="19" fill="#c0c0c0" />
<rect x="57" y="501" width="1" height="23" fill="#c0c0c0" />
<rect x="61" y="493" width="1" height="31" fill="#c0c0c0" />
<rect x="65" y="487" width="1" height="37" fill="#c0c0c0" />
<rect x="69" y="486" width="1" height="38" fill="#c0c0c0" />
<rect x="73" y="490" width="1" height="34" fill="#c0c0c0" />
<rect x="77" y="490" width="1" height="34" fill="#c0c0c0" />
<rect x="81" y="488" width="1" height="36" fill="#c0c0c0" />
<rect x="85" y="485" width="1" height="39" fill="#c0c0c0" />
<rect x="89" y="485" width="1" height="39" fill="#c0c0c0" />
<rect x="93" y="488" width="1" height="36" fill="#c0c0c0" />
<rect x="97" y="492" width="1" height="32" fill="#c0c0c0" />
<rect x="101" y="493" width="1" height="31" fill="#c0c0c0" />
<rect x="105" y="494" width="1" height="30" fill="#c0c0c0" />
<rect x="109" y="492" width="1" height="32" fill="#c0c0c0" />
<rect x="113" y="492" width="1" height="32" fill="#c0c0c0" />
<rect x="117" y="492" width="1" height="32" fill="#c0c0c0" />
<rect x="121" y="492" width="1" height="32" fill="#c0c0c0" />
<rect x="125" y="491" width="1" height="33" fill="#c0c0c0" />
<rect x="129" y="490" width="1" height="34" fill="#c0c0c0" />
<rect x="133" y="498" width="1" height="26" fill="#c0c0c0" />
<rect x="137" y="510" width="1" height="14" fill="#c0c0c0" />
<rect x="141" y="523" width="1" height="2" fill="#c0c0c0" />
<rect x="145" y="523" width="1" height="12" fill="#c0c0c0" />
<rect x="149" y="523" width="1" height="14" fill="#c0c0c0" />
<rect x="153" y="523" width="1" height="14" fill="#c0c0c0" />
<rect x="157" y="523" width="1" height="12" fill="#c0c0c0" />
<rect x="161" y="523" width="1" height="6" fill="#c0c0c0" />
<rect x="165" y="523" width="1" height="2" fill="#c0c0c0" />
<rect x="169" y="523" width="1" height="1" fill="#c0c0c0" />
<rect x="173" y="519" width="1" height="5" fill="#c0c0c0" />
<rect x="177" y="519" width="1" height="5" fill="#c0c0c0" />
<rect x="181" y="518" width="1" height="6" fill="#c0c0c0" />
<rect x="185" y="515" width="1" height="9" fill="#c0c0c0" />
<rect x="189" y="514" width="1" height="10" fill="#c0c0c0" />
<rect x="193" y="513" width="1" height="11" fill="#c0c0c0" />
<rect x="197" y="516" width="1" height="8" fill="#c0c0c0" />
<rect x="201" y="519" width="1" height="5" fill="#c0c0c0" />
<rect x="205" y="521" width="1" height="3" fill="#c0c0c0" />
<rect x="209" y="522" width="1" height="2" fill="#c0c0c0" />
<rect x="213" y="523" width="1" height="1" fill="#c0c0c0" />
<rect x="217" y="522" width="1" height="2" fill="#c0c0c0" />
<rect x="221" y="519" width="1" height="5" fill="#c0c0c0" />
<rect x="225" y="517" width="1" height="7" fill="#c0c0c0" />
<rect x="229" y="516" width="1" height="8" fill="#c0c0c0" />
<rect x="233" y="513" width="1" height="11" fill="#c0c0c0" />
<rect x="237" y="511" width="1" height="13" fill="#c0c0c0" />
<rect x="241" y="508" width="1" height="16" fill="#c0c0c0" />
<rect x="245" y="505" width="1" height="19" fill="#c0c0c0" />
<rect x="249" y="500" width="1" height="24" fill="#c0c0c0" />
<rect x="253" y="495" width="1" height="29" fill="#c0c0c0" />
<rect x="257" y="493" width="1" height="31" fill="#c0c0c0" />
<rect x="261" y="491" width="1" height="33" fill="#c0c0c0" />
<rect x="265" y="492" width="1" height="32" fill="#c0c0c0" />
<rect x="269" y="494" width="1" height="30" fill="#c0c0c0" />
<rect x="273" y="499" width="1" height="25" fill="#c0c0c0" />
<rect x="277" y="502" width="1" height="22" fill="#c0c0c0" />
<rect x="281" y="502" width="1" height="22" fill="#c0c0c0" />
<rect x="285" y="502" width="1" height="22" fill="#c0c0c0" />
<rect x="289" y="505" width="1" height="19" fill="#c0c0c0" />
<rect x="293" y="505" width="1" height="19" fill="#c0c0c0" />
<rect x="297" y="503" width="1" height="21" fill="#c0c0c0" />
<rect x="301" y="501" width="1" height="23" fill="#c0c0c0" />
<rect x="305" y="501" width="1" height="23" fill="#c0c0c0" />
<rect x="309" y="503" width="1" height="21" fill="#c0c0c0" />
<rect x="313" y="503" width="1" height="21" fill="#c0c0c0" />
<rect x="317" y="503" width="1" height="21" fill="#c0c0c0" />
<rect x="321" y="503" width="1" height="21" fill="#c0c0c0" />
<rect x="325" y="503" width="1" height="21" fill="#c0c0c0" />
<rect x="329" y="505" width="1" height="19" fill="#c0c0c0" />
<rect x="333" y="507" width="1" height="17" fill="#c0c0c0" />
<rect x="337" y="508" width="1" height="16" fill="#c0c0c0" />
<rect x="341" y="508" width="1" height="16" fill="#c0c0c0" />
<rect x="345" y="508" width="1" height="16" fill="#c0c0c0" />
<rect x="349" y="506" width="1" height="18" fill="#c0c0c0" />
<rect x="353" y="506" width="1" height="18" fill="#c0c0c0" />
<rect x="357" y="507" width="1" height="17" fill="#c0c0c0" />
<rect x="361" y="506" width="1" height="18" fill="#c0c0c0" />
<rect x="365" y="505" width="1" height="19" fill="#c0c0c0" />
<rect x="369" y="506" width="1" height="18" fill="#c0c0c0" />
<rect x="373" y="506" width="1" height="18" fill="#c0c0c0" />
<rect x="377" y="506" width="1" height="18" fill="#c0c0c0" />
<rect x="381" y="506" width="1" height="18" fill="#c0c0c0" />
<rect x="385" y="500" width="1" height="24" fill="#c0c0c0" />
<rect x="389" y="500" width="1" height="24" fill="#c0c0c0" />
<rect x="393" y="499" width="1" height="25" fill="#c0c0c0" />
<rect x="397" y="502" width="1" height="22" fill="#c0c0c0" />
<rect x="401" y="504" width="1" height="20" fill="#c0c0c0" />
<rect x="405" y="503" width="1" height="21" fill="#c0c0c0" />
<rect x="409" y="504" width="1" height="20" fill="#c0c0c0" />
<rect x="413" y="504" width="1" height="20" fill="#c0c0c0" />
<rect x="417" y="503" width="1" height="21" fill="#c0c0c0" />
<rect x="421" y="500" width="1" height="24" fill="#c0c0c0" />
<rect x="425" y="498" width="1" height="26" fill="#c0c0c0" />
<rect x="429" y="496" width="1" height="28" fill="#c0c0c0" />
<rect x="433" y="496" width="1" height="28" fill="#c0c0c0" />
<rect x="437" y="496" width="1" height="28" fill="#c0c0c0" />
<rect x="441" y="497" width="1" height="27" fill="#c0c0c0" />
<rect x="445" y="497" width="1" height="27" fill="#c0c0c0" />
<rect x="449" y="496" width="1" height="28" fill="#c0c0c0" />
<rect x="453" y="496" width="1" height="28" fill="#c0c0c0" />
<rect x="457" y="496" width="1" height="28" fill="#c0c0c0" />
<rect x="461" y="497" width="1" height="27" fill="#c0c0c0" />
<rect x="465" y="498" width="1" height="26" fill="#c0c0c0" />
<rect x="469" y="499" width="1" height="25" fill="#c0c0c0" />
<rect x="473" y="498" width="1" height="26" fill="#c0c0c0" />
<rect x="477" y="502" width="1" height="22" fill="#c0c0c0" />
<rect x="481" y="510" width="1" height="14" fill="#c0c0c0" />
<rect x="485" y="520" width="1" height="4" fill="#c0c0c0" />
<rect x="489" y="523" width="1" height="9" fill="#c0c0c0" />
<rect x="493" y="523" width="1" height="24" fill="#c0c0c0" />
<rect x="497" y="523" width="1" height="32" fill="#c0c0c0" />
<rect x="501" y="523" width="1" height="36" fill="#c0c0c0" />
<rect x="505" y="523" width="1" height="52" fill="#c0c0c0" />
<rect x="509" y="523" width="1" height="72" fill="#c0c0c0" />
<rect x="513" y="523" width="1" height="76" fill="#c0c0c0" />
<rect x="517" y="523" width="1" height="79" fill="#c0c0c0" />
<rect x="521" y="523" width="1" height="75" fill="#c0c0c0" />
<rect x="525" y="523" width="1" height="67" fill="#c0c0c0" />
<rect x="529" y="523" width="1" height="61" fill="#c0c0c0" />
<rect x="533" y="523" width="1" height="56" fill="#c0c0c0" />
<rect x="537" y="523" width="1" height="54" fill="#c0c0c0" />
<rect x="541" y="523" width="1" height="50" fill="#c0c0c0" />
<rect x="545" y="523" width="1" height="45" fill="#c0c0c0" />
<rect x="549" y="523" width="1" height="41" fill="#c0c0c0" />
<rect x="553" y="523" width="1" height="37" fill="#c0c0c0" />
<rect x="557" y="523" width="1" height="35" fill="#c0c0c0" />
<rect x="561" y="523" width="1" height="31" fill="#c0c0c0" />
<rect x="565" y="523" width="1" height="29" fill="#c0c0c0" />
<rect x="569" y="523" width="1" height="25" fill="#c0c0c0" />
<rect x="573" y="523" width="1" height="20" fill="#c0c0c0" />
<rect x="577" y="523" width="1" height="20" fill="#c0c0c0" />
<rect x="581" y="523" width="1" height="20" fill="#c0c0c0" />
<rect x="585" y="523" width="1" height="18" fill="#c0c0c0" />
<rect x="589" y="523" width="1" height="16" fill="#c0c0c0" />
<rect x="593" y="523" width="1" height="12" fill="#c0c0c0" />
<rect x="597" y="523" width="1" height="10" fill="#c0c0c0" />
<rect x="601" y="523" width="1" height="8" fill="#c0c0c0" />
<rect x="605" y="523" width="1" height="5" fill="#c0c0c0" />
<rect x="609" y="523" width="1" height="1" fill="#c0c0c0" />
<rect x="613" y="519" width="1" height="5" fill="#c0c0c0" />
<rect x="617" y="514" width="1" height="10" fill="#c0c0c0" />
<rect x="621" y="510" width="1" height="14" fill="#c0c0c0" />
<rect x="625" y="508" width="1" height="16" fill="#c0c0c0" />
<rect x="629" y="505" width="1" height="19" fill="#c0c0c0" />
<rect x="633" y="502" width="1" height="22" fill="#c0c0c0" />
<rect x="637" y="499" width="1" height="25" fill="#c0c0c0" />
<rect x="641" y="493" width="1" height="31" fill="#c0c0c0" />
<rect x="645" y="489" width="1" height="35" fill="#c0c0c0" />
<rect x="649" y="487" width="1" height="37" fill="#c0c0c0" />
<rect x="653" y="484" width="1" height="40" fill="#c0c0c0" />
<rect x="657" y="483" width="1" height="41" fill="#c0c0c0" />
<rect x="661" y="488" width="1" height="36" fill="#c0c0c0" />
<rect x="665" y="492" width="1" height="32" fill="#c0c0c0" />
<rect x="669" y="493" width="1" height="31" fill="#c0c0c0" />
<rect x="673" y="497" width="1" height="27" fill="#c0c0c0" />
<rect x="677" y="500" width="1" height="24" fill="#c0c0c0" />
<rect x="681" y="504" width="1" height="20" fill="#c0c0c0" />
<rect x="685" y="506" width="1" height="18" fill="#c0c0c0" />
<rect x="689" y="508" width="1" height="16" fill="#c0c0c0" />
<rect x="693" y="509" width="1" height="15" fill="#c0c0c0" />
<rect x="697" y="512" width="1" height="12" fill="#c0c0c0" />
<rect x="701" y="515" width="1" height="9" fill="#c0c0c0" />
<rect x="705" y="517" width="1" height="7" fill="#c0c0c0" />
<rect x="709" y="522" width="1" height="2" fill="#c0c0c0" />
<rect x="713" y="523" width="1" height="3" fill="#c0c0c0" />
<rect x="717" y="523" width="1" height="6" fill="#c0c0c0" />
<rect x="721" y="523" width="1" height="9" fill="#c0c0c0" />
<rect x="725" y="523" width="1" height="16" fill="#c0c0c0" />
<rect x="729" y="523" width="1" height="16" fill="#c0c0c0" />
<rect x="733" y="523" width="1" height="18" fill="#c0c0c0" />
<rect x="737" y="523" width="1" height="14" fill="#c0c0c0" />
<rect x="741" y="523" width="1" height="12" fill="#c0c0c0" />
<rect x="745" y="523" width="1" height="14" fill="#c0c0c0" />
<rect x="749" y="523" width="1" height="18" fill="#c0c0c0" />
<rect x="753" y="523" width="1" height="18" fill="#c0c0c0" />
<rect x="757" y="523" width="1" height="16" fill="#c0c0c0" />
<rect x="761" y="523" width="1" height="14" fill="#c0c0c0" />
<rect x="765" y="523" width="1" height="12" fill="#c0c0c0" />
<rect x="769" y="523" width="1" height="12" fill="#c0c0c0" />
<rect x="773" y="523" width="1" height="10" fill="#c0c0c0" />
<rect x="777" y="523" width="1" height="9" fill="#c0c0c0" />
<rect x="781" y="523" width="1" height="7" fill="#c0c0c0" />
<rect x="785" y="523" width="1" height="5" fill="#c0c0c0" />
<rect x="789" y="523" width="1" height="4" fill="#c0c0c0" />
<rect x="793" y="523" width="1" height="2" fill="#c0c0c0" />
<rect x="797" y="523" width="1" height="1" fill="#c0c0c0" />
<rect x="801" y="520" width="1" height="4" fill="#c0c0c0" />
<rect x="805" y="519" width="1" height="5" fill="#c0c0c0" />
<rect x="809" y="520" width="1" height="4" fill="#c0c0c0" />
<rect x="813" y="523" width="1" height="1" fill="#c0c0c0" />
<rect x="817" y="523" width="1" height="2" fill="#c0c0c0" />
<rect x="821" y="523" width="1" height="6" fill="#c0c0c0" />
<rect x="825" y="523" width="1" height="8" fill="#c0c0c0" />
<rect x="829" y="523" width="1" height="9" fill="#c0c0c0" />
<rect x="833" y="523" width="1" height="10" fill="#c0c0c0" />
<rect x="837" y="523" width="1" height="12" fill="#c0c0c0" />
<rect x="841" y="523" width="1" height="12" fill="#c0c0c0" />
<rect x="845" y="523" width="1" height="13" fill="#c0c0c0" />
<rect x="849" y="523" width="1" height="12" fill="#c0c0c0" />
<rect x="853" y="523" width="1" height="10" fill="#c0c0c0" />
<rect x="857" y="523" width="1" height="7" fill="#c0c0c0" />
<rect x="861" y="523" width="1" height="2" fill="#c0c0c0" />
<rect x="865" y="523" width="1" height="1" fill="#c0c0c0" />
<rect x="869" y="519" width="1" height="5" fill="#c0c0c0" />
<rect x="873" y="518" width="1" height="6" fill="#c0c0c0" />
<rect x="877" y="519" width="1" height="5" fill="#c0c0c0" />
<rect x="881" y="519" width="1" height="5" fill="#c0c0c0" />
<rect x="885" y="518" width="1" height="6" fill="#c0c0c0" />
<rect x="889" y="517" width="1" height="7" fill="#c0c0c0" />
<rect x="893" y="516" width="1" height="8" fill="#c0c0c0" />
<rect x="897" y="515" width="1" height="9" fill="#c0c0c0" />
<rect x="901" y="513" width="1" height="11" fill="#c0c0c0" />
<rect x="905" y="513" width="1" height="11" fill="#c0c0c0" />
<rect x="909" y="510" width="1" height="14" fill="#c0c0c0" />
<rect x="913" y="506" width="1" height="18" fill="#c0c0c0" />
<rect x="917" y="506" width="1" height="18" fill="#c0c0c0" />
<rect x="921" y="505" width="1" height="19" fill="#c0c0c0" />
<rect x="925" y="504" width="1" height="20" fill="#c0c0c0" />
<rect x="929" y="504" width="1" height="20" fill="#c0c0c0" />
<rect x="933" y="503" width="1" height="21" fill="#c0c0c0" />
<rect x="937" y="509" width="1" height="15" fill="#c0c0c0" />
<rect x="941" y="513" width="1" height="11" fill="#c0c0c0" />
<rect x="945" y="516" width="1" height="8" fill="#c0c0c0" />
<rect x="949" y="519" width="1" height="5" fill="#c0c0c0" />
<rect x="953" y="520" width="1" height="4" fill="#c0c0c0" />
<rect x="957" y="522" width="1" height="2" fill="#c0c0c0" />
<rect x="961" y="523" width="1" height="1" fill="#c0c0c0" />
<rect x="965" y="523" width="1" height="3" fill="#c0c0c0" />
<rect x="969" y="523" width="1" height="3" fill="#c0c0c0" />
<rect x="973" y="523" width="1" height="2" fill="#c0c0c0" />
<rect x="977" y="521" width="1" height="3" fill="#c0c0c0" />
<rect x="981" y="520" width="1" height="4" fill="#c0c0c0" />
<rect x="985" y="519" width="1" height="5" fill="#c0c0c0" />
<rect x="989" y="523" width="1" height="2" fill="#c0c0c0" />
<path d="M5 509h1v1h-1zM6 509h1v1h-1zM7 508h1v1h-1zM11 507h1v1h-1zM12 506h1v1h-1zM13 506h1v1h-1zM17 505h1v1h-1zM18 505h1v1h-1zM19 504h1v1h-1zM23 504h1v1h-1zM24 504h1v1h-1zM25 504h1v1h-1zM29 503h1v1h-1zM30 503h1v1h-1zM31 503h1v1h-1zM35 503h1v1h-1zM36 503h1v1h-1zM37 503h1v1h-1zM41 503h1v1h-1zM42 503h1v1h-1zM43 503h1v1h-1zM47 503h1v1h-1zM48 503h1v1h-1zM49 503h1v1h-1zM53 504h1v1h-1zM54 504h1v1h-1zM55 504h1v1h-1zM59 503h1v1h-1zM60 502h1v1h-1zM61 502h1v1h-1zM65 500h1v1h-1zM66 500h1v1h-1zM67 499h1v1h-1zM71 498h1v1h-1zM72 497h1v1h-1zM73 497h1v1h-1zM77 496h1v1h-1zM78 495h1v1h-1zM79 495h1v1h-1zM83 493h1v1h-1zM84 492h1v1h-1zM85 492h1v1h-1zM89 489h1v1h-1zM90 489h1v1h-1zM91 488h1v1h-1zM95 488h1v1h-1zM96 488h1v1h-1zM97 488h1v1h-1zM101 489h1v1h-1zM102 489h1v1h-1zM103 489h1v1h-1zM107 490h1v1h-1zM108 490h1v1h-1zM109 490h1v1h-1zM113 490h1v1h-1zM114 490h1v1h-1zM115 490h1v1h-1zM119 491h1v1h-1zM120 491h1v1h-1zM121 491h1v1h-1zM125 492h1v1h-1zM126 492h1v1h-1zM127 492h1v1h-1zM131 493h1v1h-1zM132 493h1v1h-1zM133 493h1v1h-1zM137 494h1v1h-1zM138 495h1v1h-1zM139 496h1v1h-1zM143 500h1v1h-1zM144 501h1v1h-1zM145 502h1v1h-1zM148 506h1v1h-1zM149 507h1v1h-1zM150 508h1v1h-1zM153 512h1v1h-1zM154 513h1v1h-1zM155 514h1v1h-1zM158 518h1v1h-1zM159 519h1v1h-1zM160 520h1v1h-1zM164 524h1v1h-1zM165 525h1v1h-1zM166 526h1v1h-1zM170 528h1v1h-1zM171 529h1v1h-1zM172 529h1v1h-1zM176 528h1v1h-1zM177 528h1v1h-1zM178 527h1v1h-1zM182 525h1v1h-1zM183 525h1v1h-1zM184 524h1v1h-1zM188 522h1v1h-1zM189 522h1v1h-1zM190 521h1v1h-1zM194 519h1v1h-1zM195 518h1v1h-1zM196 518h1v1h-1zM200 517h1v1h-1zM201 517h1v1h-1zM202 517h1v1h-1zM206 517h1v1h-1zM207 518h1v1h-1zM208 518h1v1h-1zM212 518h1v1h-1zM213 518h1v1h-1zM214 518h1v1h-1zM218 518h1v1h-1zM219 519h1v1h-1zM220 519h1v1h-1zM224 519h1v1h-1zM225 519h1v1h-1zM226 519h1v1h-1zM230 520h1v1h-1zM231 519h1v1h-1zM232 519h1v1h-1zM236 518h1v1h-1zM237 518h1v1h-1zM238 518h1v1h-1zM242 516h1v1h-1zM243 516h1v1h-1zM244 515h1v1h-1zM248 513h1v1h-1zM249 513h1v1h-1zM250 512h1v1h-1zM254 509h1v1h-1zM255 508h1v1h-1zM256 508h1v1h-1zM260 505h1v1h-1zM261 504h1v1h-1zM262 503h1v1h-1zM266 500h1v1h-1zM267 500h1v1h-1zM268 499h1v1h-1zM272 498h1v1h-1zM273 498h1v1h-1zM274 498h1v1h-1zM278 497h1v1h-1zM279 496h1v1h-1zM280 496h1v1h-1zM284 497h1v1h-1zM285 497h1v1h-1zM286 497h1v1h-1zM290 498h1v1h-1zM291 499h1v1h-1zM292 499h1v1h-1zM296 501h1v1h-1zM297 501h1v1h-1zM298 501h1v1h-1zM302 502h1v1h-1zM303 502h1v1h-1zM304 502h1v1h-1zM308 503h1v1h-1zM309 503h1v1h-1zM310 503h1v1h-1zM314 503h1v1h-1zM315 503h1v1h-1zM316 503h1v1h-1zM320 503h1v1h-1zM321 503h1v1h-1zM322 503h1v1h-1zM326 503h1v1h-1zM327 503h1v1h-1zM328 503h1v1h-1zM332 503h1v1h-1zM333 503h1v1h-1zM334 503h1v1h-1zM338 504h1v1h-1zM339 505h1v1h-1zM340 505h1v1h-1zM344 506h1v1h-1zM345 506h1v1h-1zM346 506h1v1h-1zM350 506h1v1h-1zM351 506h1v1h-1zM352 506h1v1h-1zM356 506h1v1h-1zM357 506h1v1h-1zM358 506h1v1h-1zM362 507h1v1h-1zM363 507h1v1h-1zM364 507h1v1h-1zM368 507h1v1h-1zM369 507h1v1h-1zM370 507h1v1h-1zM374 506h1v1h-1zM375 506h1v1h-1zM376 506h1v1h-1zM380 506h1v1h-1zM381 506h1v1h-1zM382 506h1v1h-1zM386 505h1v1h-1zM387 505h1v1h-1zM388 505h1v1h-1zM392 504h1v1h-1zM393 504h1v1h-1zM394 504h1v1h-1zM398 503h1v1h-1zM399 503h1v1h-1zM400 503h1v1h-1zM404 503h1v1h-1zM405 503h1v1h-1zM406 503h1v1h-1zM410 503h1v1h-1zM411 502h1v1h-1zM412 502h1v1h-1zM416 502h1v1h-1zM417 502h1v1h-1zM418 502h1v1h-1zM422 502h1v1h-1zM423 502h1v1h-1zM424 502h1v1h-1zM428 501h1v1h-1zM429 501h1v1h-1zM430 501h1v1h-1zM434 501h1v1h-1zM435 500h1v1h-1zM436 500h1v1h-1zM440 499h1v1h-1zM441 499h1v1h-1zM442 499h1v1h-1zM446 499h1v1h-1zM447 498h1v1h-1zM448 498h1v1h-1zM452 497h1v1h-1zM453 497h1v1h-1zM454 497h1v1h-1zM458 497h1v1h-1zM459 497h1v1h-1zM460 497h1v1h-1zM464 497h1v1h-1zM465 497h1v1h-1zM466 497h1v1h-1zM470 497h1v1h-1zM471 497h1v1h-1zM472 497h1v1h-1zM476 498h1v1h-1zM477 498h1v1h-1zM478 498h1v1h-1zM482 500h1v1h-1zM483 501h1v1h-1zM484 501h1v1h-1zM488 505h1v1h-1zM489 506h1v1h-1zM490 507h1v1h-1zM493 511h1v1h-1zM494 512h1v1h-1zM494 513h1v1h-1zM496 517h1v1h-1zM497 518h1v1h-1zM498 519h1v1h-1zM500 523h1v1h-1zM501 524h1v1h-1zM502 525h1v1h-1zM504 529h1v1h-1zM504 530h1v1h-1zM505 531h1v1h-1zM506 535h1v1h-1zM506 536h1v1h-1zM507 537h1v1h-1zM508 541h1v1h-1zM509 542h1v1h-1zM509 543h1v1h-1zM510 547h1v1h-1zM511 548h1v1h-1zM511 549h1v1h-1zM513 553h1v1h-1zM513 554h1v1h-1zM513 555h1v1h-1zM515 559h1v1h-1zM515 560h1v1h-1zM516 561h1v1h-1zM517 565h1v1h-1zM518 566h1v1h-1zM518 567h1v1h-1zM520 571h1v1h-1zM521 572h1v1h-1zM521 573h1v1h-1zM524 577h1v1h-1zM524 578h1v1h-1zM525 579h1v1h-1zM529 583h1v1h-1zM530 584h1v1h-1zM531 585h1v1h-1zM535 587h1v1h-1zM536 588h1v1h-1zM537 588h1v1h-1zM541 588h1v1h-1zM542 587h1v1h-1zM543 586h1v1h-1zM547 582h1v1h-1zM548 582h1v1h-1zM549 581h1v1h-1zM552 577h1v1h-1zM553 576h1v1h-1zM554 575h1v1h-1zM557 571h1v1h-1zM558 570h1v1h-1zM559 569h1v1h-1zM563 565h1v1h-1zM564 565h1v1h-1zM565 564h1v1h-1zM569 560h1v1h-1zM570 559h1v1h-1zM571 558h1v1h-1zM575 555h1v1h-1zM576 554h1v1h-1zM577 553h1v1h-1zM581 551h1v1h-1zM582 550h1v1h-1zM583 549h1v1h-1zM587 547h1v1h-1zM588 546h1v1h-1zM589 546h1v1h-1zM593 543h1v1h-1zM594 542h1v1h-1zM595 542h1v1h-1zM599 540h1v1h-1zM600 539h1v1h-1zM601 539h1v1h-1zM605 536h1v1h-1zM606 535h1v1h-1zM607 535h1v1h-1zM611 533h1v1h-1zM612 532h1v1h-1zM613 532h1v1h-1zM617 529h1v1h-1zM618 528h1v1h-1zM619 527h1v1h-1zM623 523h1v1h-1zM624 523h1v1h-1zM625 522h1v1h-1zM629 519h1v1h-1zM630 518h1v1h-1zM631 517h1v1h-1zM635 514h1v1h-1zM636 513h1v1h-1zM637 512h1v1h-1zM641 508h1v1h-1zM642 507h1v1h-1zM643 506h1v1h-1zM647 503h1v1h-1zM648 502h1v1h-1zM649 501h1v1h-1zM653 498h1v1h-1zM654 497h1v1h-1zM655 496h1v1h-1zM659 493h1v1h-1zM660 493h1v1h-1zM661 492h1v1h-1zM665 491h1v1h-1zM666 491h1v1h-1zM667 490h1v1h-1zM671 490h1v1h-1zM672 490h1v1h-1zM673 490h1v1h-1zM677 490h1v1h-1zM678 491h1v1h-1zM679 491h1v1h-1zM683 493h1v1h-1zM684 494h1v1h-1zM685 494h1v1h-1zM689 497h1v1h-1zM690 498h1v1h-1zM691 499h1v1h-1zM695 501h1v1h-1zM696 502h1v1h-1zM697 502h1v1h-1zM701 505h1v1h-1zM702 506h1v1h-1zM703 507h1v1h-1zM707 510h1v1h-1zM708 510h1v1h-1zM709 511h1v1h-1zM713 513h1v1h-1zM714 514h1v1h-1zM715 515h1v1h-1zM719 518h1v1h-1zM720 518h1v1h-1zM721 519h1v1h-1zM725 522h1v1h-1zM726 523h1v1h-1zM727 524h1v1h-1zM731 527h1v1h-1zM732 527h1v1h-1zM733 528h1v1h-1zM737 531h1v1h-1zM738 531h1v1h-1zM739 532h1v1h-1zM743 533h1v1h-1zM744 534h1v1h-1zM745 534h1v1h-1zM749 535h1v1h-1zM750 536h1v1h-1zM751 536h1v1h-1zM755 538h1v1h-1zM756 538h1v1h-1zM757 538h1v1h-1zM761 537h1v1h-1zM762 537h1v1h-1zM763 537h1v1h-1zM767 536h1v1h-1zM768 536h1v1h-1zM769 536h1v1h-1zM773 536h1v1h-1zM774 536h1v1h-1zM775 536h1v1h-1zM779 535h1v1h-1zM780 535h1v1h-1zM781 535h1v1h-1zM785 533h1v1h-1zM786 533h1v1h-1zM787 532h1v1h-1zM791 531h1v1h-1zM792 530h1v1h-1zM793 530h1v1h-1zM797 529h1v1h-1zM798 529h1v1h-1zM799 528h1v1h-1zM803 527h1v1h-1zM804 526h1v1h-1zM805 526h1v1h-1zM809 524h1v1h-1zM810 524h1v1h-1zM811 524h1v1h-1zM815 523h1v1h-1zM816 523h1v1h-1zM817 523h1v1h-1zM821 523h1v1h-1zM822 523h1v1h-1zM823 524h1v1h-1zM827 524h1v1h-1zM828 524h1v1h-1zM829 524h1v1h-1zM833 525h1v1h-1zM834 526h1v1h-1zM835 526h1v1h-1zM839 528h1v1h-1zM840 529h1v1h-1zM841 529h1v1h-1zM845 530h1v1h-1zM846 531h1v1h-1zM847 531h1v1h-1zM851 532h1v1h-1zM852 532h1v1h-1zM853 532h1v1h-1zM857 533h1v1h-1zM858 533h1v1h-1zM859 532h1v1h-1zM863 531h1v1h-1zM864 531h1v1h-1zM865 531h1v1h-1zM869 529h1v1h-1zM870 529h1v1h-1zM871 528h1v1h-1zM875 527h1v1h-1zM876 526h1v1h-1zM877 526h1v1h-1zM881 524h1v1h-1zM882 523h1v1h-1zM883 523h1v1h-1zM887 521h1v1h-1zM888 521h1v1h-1zM889 521h1v1h-1zM893 519h1v1h-1zM894 519h1v1h-1zM895 518h1v1h-1zM899 517h1v1h-1zM900 517h1v1h-1zM901 517h1v1h-1zM905 516h1v1h-1zM906 516h1v1h-1zM907 516h1v1h-1zM911 515h1v1h-1zM912 514h1v1h-1zM913 514h1v1h-1zM917 513h1v1h-1zM918 512h1v1h-1zM919 512h1v1h-1zM923 510h1v1h-1zM924 510h1v1h-1zM925 510h1v1h-1zM929 508h1v1h-1zM930 508h1v1h-1zM931 507h1v1h-1zM935 507h1v1h-1zM936 507h1v1h-1zM937 507h1v1h-1zM941 507h1v1h-1zM942 507h1v1h-1zM943 507h1v1h-1zM947 508h1v1h-1zM948 509h1v1h-1zM949 509h1v1h-1zM953 510h1v1h-1zM954 511h1v1h-1zM955 511h1v1h-1zM959 513h1v1h-1zM960 514h1v1h-1zM961 514h1v1h-1zM965 517h1v1h-1zM966 518h1v1h-1zM967 518h1v1h-1zM971 520h1v1h-1zM972 521h1v1h-1zM973 521h1v1h-1zM977 522h1v1h-1zM978 522h1v1h-1zM979 522h1v1h-1zM983 522h1v1h-1zM984 522h1v1h-1zM985 522h1v1h-1zM989 523h1v1h-1z" fill="#ff0000"/>
<text x="9" y="487.5" font-size="10" fill="#000" xml:space="preserve" textLength="154" lengthAdjust="spacingAndGlyphs">MACD(12,26,9) -0.000341 -0.000036</text>
<rect x="1246" y="476" width="2" height="1" fill="#000" />
<rect x="1246" y="523" width="2" height="1" fill="#000" />
<rect x="1246" y="607" width="2" height="1" fill="#000" />
<text transform="translate(1249,485) scale(0.95,1)" font-size="10" fill="#000">0.011636</text>
<text transform="translate(1249,527) scale(0.95,1)" font-size="10" fill="#000">0.00</text>
<text transform="translate(1249,605) scale(0.95,1)" font-size="10" fill="#000">-0.020788</text>
<rect x="5" y="609" width="1" height="3" fill="#000" />
<text transform="translate(4,621) scale(0.95,1)" font-size="10" fill="#000">4 Oct 2018</text>
<rect x="69" y="609" width="1" height="3" fill="#000" />
<text transform="translate(68,621) scale(0.95,1)" font-size="10" fill="#000">9 Oct 00:00</text>
<rect x="133" y="609" width="1" height="3" fill="#000" />
<text transform="translate(132,621) scale(0.95,1)" font-size="10" fill="#000">11 Oct 16:00</text>
<rect x="197" y="609" width="1" height="3" fill="#000" />
<text transform="translate(196,621) scale(0.95,1)" font-size="10" fill="#000">16 Oct 12:00</text>
<rect x="261" y="609" width="1" height="3" fill="#000" />
<text transform="translate(260,621) scale(0.95,1)" font-size="10" fill="#000">19 Oct 04:00</text>
<rect x="325" y="609" width="1" height="3" fill="#000" />
<text transform="translate(324,621) scale(0.95,1)" font-size="10" fill="#000">23 Oct 20:00</text>
<rect x="389" y="609" width="1" height="3" fill="#000" />
<text transform="translate(388,621) scale(0.95,1)" font-size="10" fill="#000">26 Oct 12:00</text>
<rect x="453" y="609" width="1" height="3" fill="#000" />
<text transform="translate(452,621) scale(0.95,1)" font-size="10" fill="#000">31 Oct 08:00</text>
<rect x="517" y="609" width="1" height="3" fill="#000" />
<text transform="translate(516,621) scale(0.95,1)" font-size="10" fill="#000">3 Nov 00:00</text>
<rect x="581" y="609" width="1" height="3" fill="#000" />
<text transform="translate(580,621) scale(0.95,1)" font-size="10" fill="#000">7 Nov 20:00</text>
<rect x="645" y="609" width="1" height="3" fill="#000" />
<text transform="translate(644,621) scale(0.95,1)" font-size="10" fill="#000">12 Nov 16:00</text>
<rect x="709" y="609" width="1" height="3" fill="#000" />
<text transform="translate(708,621) scale(0.95,1)" font-size="10" fill="#000">15 Nov 08:00</text>
<rect x="773" y="609" width="1" height="3" fill="#000" />
<text transform="translate(772,621) scale(0.95,1)" font-size="10" fill="#000">20 Nov 00:00</text>
<rect x="837" y="609" width="1" height="3" fill="#000" />
<text transform="translate(836,621) scale(0.95,1)" font-size="10" fill="#000">22 Nov 16:00</text>
<rect x="901" y="609" width="1" height="3" fill="#000" />
<text transform="translate(900,621) scale(0.95,1)" font-size="10" fill="#000">27 Nov 12:00</text>
<rect x="965" y="609" width="1" height="3" fill="#000" />
<text transform="translate(964,621) scale(0.95,1)" font-size="10" fill="#000">30 Nov 04:00</text>
<rect x="0" y="631" width="1290" height="20" fill="#f0f0f0" />
<rect x="0" y="631" width="1290" height="1" fill="#202020" />
<rect x="0" y="632" width="2" height="18" fill="#a0a0a0" />
<rect x="0" y="651" width="1290" height="4" fill="#f4f4f4" />
<rect x="0" y="655" width="1286" height="1" fill="#a8a8a8" />
<rect x="0" y="656" width="1290" height="2" fill="#ffffff" />
<rect x="98" y="634" width="1" height="14" fill="#6d6d6d" />
<rect x="186" y="634" width="1" height="14" fill="#6d6d6d" />
<rect x="278" y="634" width="1" height="14" fill="#6d6d6d" />
<rect x="371" y="631" width="90" height="18" fill="#ffffff" />
<rect x="370" y="631" width="1" height="19" fill="#000" />
<rect x="461" y="631" width="1" height="19" fill="#000" />
<rect x="370" y="649" width="92" height="1" fill="#000" />
<text x="18" y="646" font-size="12" fill="#6d6d6d">EURUSD,H4</text>
<text x="108" y="646" font-size="12" fill="#6d6d6d">USDCHF,H4</text>
<text x="197" y="646" font-size="12" fill="#6d6d6d">USDCAD,H4</text>
<text x="289.5" y="646" font-size="12" fill="#6d6d6d">AUDUSD,H4</text>
<text x="380" y="646" font-size="12" fill="#000">USDCNH,H4</text>
<path d="M1262 637 L1262 644 L1258.5 640.5 Z" fill="#a0a0a0" shape-rendering="auto"/>
<path d="M1278 637 L1278 644 L1281.5 640.5 Z" fill="#a0a0a0" shape-rendering="auto"/>
<rect x="8" y="50" width="52" height="24" fill="url(#gs)" />
<rect x="175" y="50" width="52" height="24" fill="url(#gs)" />
<rect x="8" y="74" width="109" height="40" fill="url(#gp)" />
<rect x="119" y="74" width="108" height="40" fill="url(#gp)" />
<rect x="12" y="74" width="44" height="1" fill="#7f7fff" />
<rect x="179" y="74" width="44" height="1" fill="#7f7fff" />
<text x="20.7" y="66" font-size="12" fill="#fff" textLength="25.3" lengthAdjust="spacingAndGlyphs">SELL</text>
<text x="188.7" y="66" font-size="12" fill="#fff" textLength="23.3" lengthAdjust="spacingAndGlyphs">BUY</text>
<rect x="62" y="50" width="111" height="22" fill="#ffffff" />
<rect x="62.5" y="50.5" width="110" height="21" fill="none" stroke="#adadad"/>
<rect x="63" y="51" width="20" height="20" fill="url(#gbtn)" />
<rect x="83" y="51" width="1" height="20" fill="#c8c8c8" />
<rect x="152" y="51" width="20" height="20" fill="url(#gbtn)" />
<rect x="151" y="51" width="1" height="20" fill="#c8c8c8" />
<path d="M69.5 59 L75.5 59 L72.5 62 Z" fill="#5a6fb0" shape-rendering="auto"/>
<path d="M158.5 62 L164.5 62 L161.5 59 Z" fill="#5a6fb0" shape-rendering="auto"/>
<text x="124.7" y="65" font-size="12" fill="#000" textLength="22.8" lengthAdjust="spacingAndGlyphs">3.00</text>
<text x="28" y="105" font-size="12.5" font-weight="bold" fill="#fff" textLength="23.6" lengthAdjust="spacingAndGlyphs">6.92</text>
<text x="56" y="105" font-size="34" fill="#fff" textLength="34.6" lengthAdjust="spacingAndGlyphs">38</text>
<text x="95" y="89" font-size="11.5" font-weight="bold" fill="#fff">5</text>
<text x="138.3" y="105" font-size="12.5" font-weight="bold" fill="#fff" textLength="23.6" lengthAdjust="spacingAndGlyphs">6.92</text>
<text x="167" y="105" font-size="34" fill="#fff" textLength="34.6" lengthAdjust="spacingAndGlyphs">61</text>
<text x="206.5" y="89" font-size="11.5" font-weight="bold" fill="#fff">3</text>
<rect x="1288" y="28" width="1" height="602" fill="#e3e3e3" />
<rect x="1289" y="28" width="1" height="603" fill="#ffffff" />
</svg></body></html>
